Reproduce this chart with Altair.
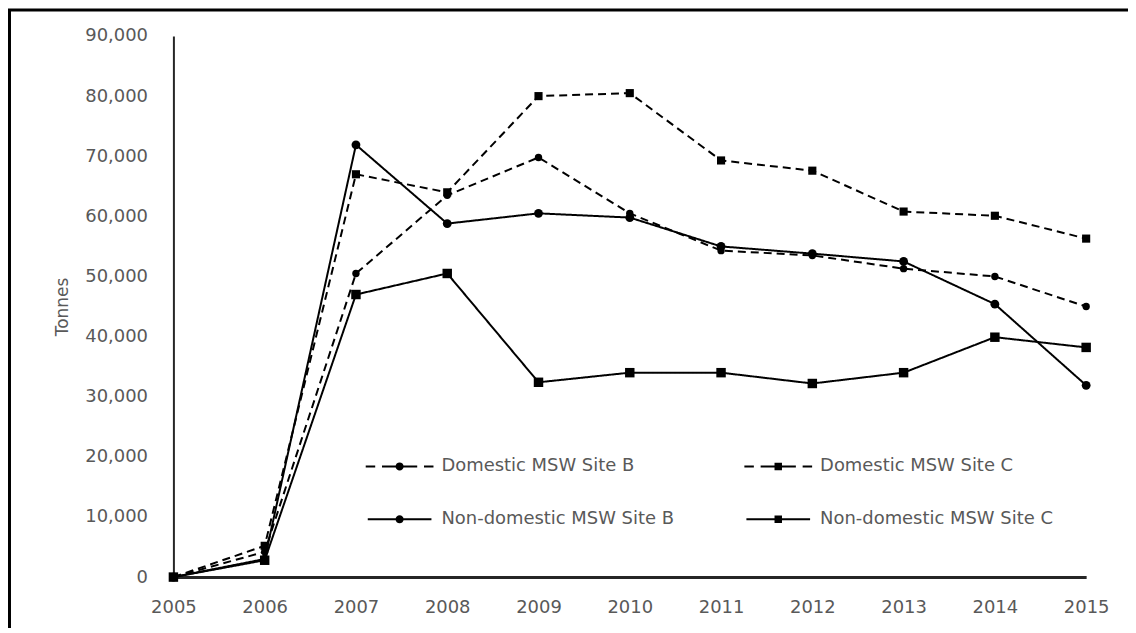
import math
import altair as alt
import pandas as pd

# ---- data ----
years = [2005, 2006, 2007, 2008, 2009, 2010, 2011, 2012, 2013, 2014, 2015]
series_names = ["Domestic MSW Site B", "Domestic MSW Site C",
                "Non-domestic MSW Site B", "Non-domestic MSW Site C"]
domestic_b = [0, 4200, 50500, 63500, 69800, 60500, 54300, 53500, 51300, 50000, 45000]
domestic_c = [0, 5200, 67000, 64000, 80000, 80500, 69300, 67600, 60800, 60100, 56300]
nondomestic_b = [0, 3000, 71900, 58800, 60500, 59800, 55000, 53800, 52500, 45400, 31900]
nondomestic_c = [0, 2800, 47000, 50500, 32400, 34000, 34000, 32200, 34000, 39900, 38200]
y_ticks = [0, 10000, 20000, 30000, 40000, 50000, 60000, 70000, 80000, 90000]

rows = []
for name, vals in zip(series_names, [domestic_b, domestic_c, nondomestic_b, nondomestic_c]):
    for yr, v in zip(years, vals):
        rows.append({"series": name, "legend": name, "year": yr, "value": v})
df = pd.DataFrame(rows)

# ---- legend symbol paths (filled line segments + marker) ----
def circle_path(r, n=16):
    pts = [(r * math.cos(2 * math.pi * k / n), r * math.sin(2 * math.pi * k / n)) for k in range(n)]
    s = "M%.3f,%.3f" % pts[0]
    for p in pts[1:]:
        s += "L%.3f,%.3f" % p
    return s + "Z"

def seg(a, b, h=0.03):
    return "M%.3f,%.3fL%.3f,%.3fL%.3f,%.3fL%.3f,%.3fZ" % (a, -h, b, -h, b, h, a, h)

sq = "M-0.11,-0.11L0.11,-0.11L0.11,0.11L-0.11,0.11Z"
dash_segs = seg(-1, -0.72) + seg(-0.52, 0.52) + seg(0.72, 1)
solid_seg = seg(-0.94, 0.94)
legend_shapes = [dash_segs + circle_path(0.12), dash_segs + sq,
                 solid_seg + circle_path(0.12), solid_seg + sq]

W, H = 916, 543
grey = "#595959"
font = "DejaVu Sans"

x_enc = alt.X("year:Q", scale=alt.Scale(domain=[2005, 2015], nice=False, zero=False),
              axis=alt.Axis(values=years, format="d", title=None, labelFlush=False,
                            ticks=False, tickSize=0, grid=False, labelPadding=22,
                            domainColor="#262626", domainWidth=3,
                            labelColor=grey, labelFont=font, labelFontSize=18,
                            labelOverlap=False))
y_enc = alt.Y("value:Q", scale=alt.Scale(domain=[0, 90000], nice=False),
              axis=alt.Axis(values=y_ticks, format=",d", title="Tonnes", grid=False,
                            ticks=False, tickSize=0, labelPadding=26, labelFlush=False,
                            domainColor="#262626", domainWidth=2,
                            labelColor=grey, labelFont=font, labelFontSize=18,
                            titleColor=grey, titleFont=font, titleFontSize=17,
                            titleFontWeight="normal", titleX=-111, titleY=H / 2,
                            titleAngle=-90, titleAlign="center", titleBaseline="middle"))

base = alt.Chart(df)

lines = base.mark_line(color="black", strokeWidth=2).encode(
    x=x_enc, y=y_enc,
    detail="series:N",
    strokeDash=alt.StrokeDash("series:N",
                              scale=alt.Scale(domain=series_names,
                                              range=[[8, 5], [8, 5], [1, 0], [1, 0]]),
                              legend=None),
)

points = base.mark_point(filled=True, color="black", opacity=1).encode(
    x=x_enc, y=y_enc,
    shape=alt.Shape("series:N",
                    scale=alt.Scale(domain=series_names,
                                    range=["circle", "square", "circle", "square"]),
                    legend=None),
    size=alt.Size("series:N",
                  scale=alt.Scale(domain=series_names, range=[55, 90, 55, 90]),
                  legend=None),
)

legend_layer = base.transform_filter("datum.value < 0").mark_point(
    fill="black", stroke="black", strokeWidth=2, opacity=1, filled=True
).encode(
    x=x_enc, y=y_enc,
    shape=alt.Shape("legend:N",
                    scale=alt.Scale(domain=series_names, range=legend_shapes),
                    legend=alt.Legend(title=None, orient="none", legendX=193, legendY=398,
                                      direction="horizontal",
                                      columns=2, columnPadding=70, rowPadding=10,
                                      symbolSize=4624, symbolStrokeWidth=0,
                                      symbolFillColor="black", symbolStrokeColor="black",
                                      labelOffset=8, labelColor=grey, labelFont=font,
                                      labelFontSize=18, labelLimit=400, padding=0)),
)

frame = alt.Chart(alt.Data(values=[{}])).mark_rect(
    fill=None, stroke="black", strokeWidth=3
).encode(
    x=alt.value(-164.5), x2=alt.value(966), y=alt.value(-26), y2=alt.value(605)
)

chart = alt.layer(lines, points, legend_layer, frame).resolve_scale(
    shape="independent", size="independent"
).properties(
    width=W, height=H,
    background="white",
    autosize=alt.AutoSizeParams(type="none"),
    padding={"left": 166, "top": 27, "right": 42, "bottom": 50},
).configure_view(strokeWidth=0, stroke="transparent")

chart.save("out.html", embed_options={"renderer": "svg", "actions": False})
